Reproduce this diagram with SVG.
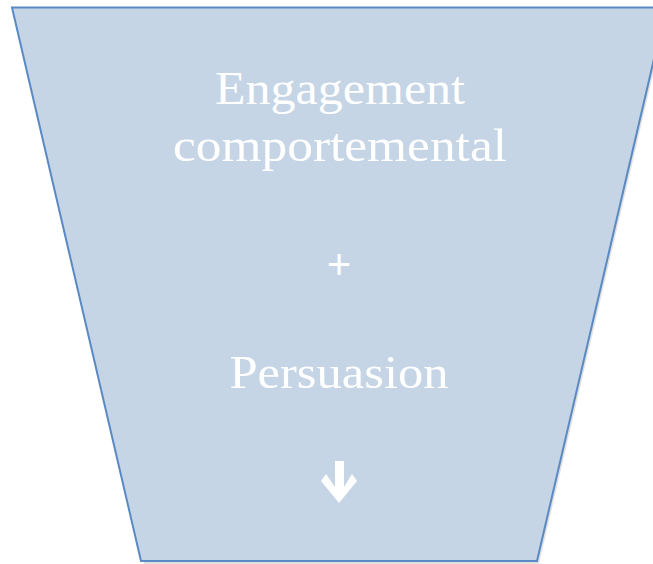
<svg xmlns="http://www.w3.org/2000/svg" width="653" height="564" viewBox="0 0 653 564">
<style>
.t{font-family:"Liberation Serif","DejaVu Serif",serif;fill:#ffffff;text-anchor:middle}
</style>
<rect width="653" height="564" fill="#ffffff"/>
<g id="funnel">
<path d="M14,10 L668,10 L539,564 L144,564 Z" fill="#000" opacity="0.12"/>
<path d="M12,7.5 L666,7.5 L537,561 L141,561 Z" fill="#c5d5e6" stroke="#5a89c3" stroke-width="2"/>
</g>
<g id="labels">
<text class="t" x="340" y="104" font-size="46" textLength="250" lengthAdjust="spacingAndGlyphs">Engagement</text>
<text class="t" x="340" y="161" font-size="46" textLength="334" lengthAdjust="spacingAndGlyphs">comportemental</text>
<text x="339" y="279" font-size="42" font-family="Liberation Sans, Arial, sans-serif" fill="#ffffff" text-anchor="middle">+</text>
<text class="t" x="339" y="388" font-size="46" textLength="219" lengthAdjust="spacingAndGlyphs">Persuasion</text>
</g>
<g id="arrow">
<polygon points="335,461 344,461 344,487 352,474 357,481 339,503 321,481 326,474 335,487" fill="#ffffff"/>
</g>
</svg>
